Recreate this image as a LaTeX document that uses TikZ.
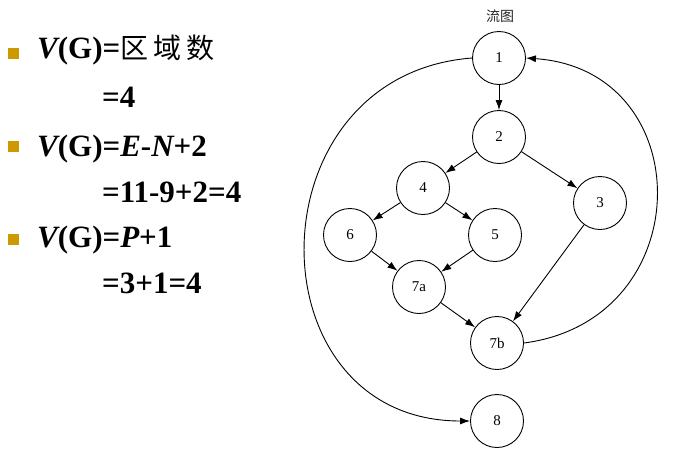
\documentclass[tikz,border=0pt]{standalone}
\usepackage{fontspec}
\setmainfont{Liberation Serif}
\newfontfamily\cjk{Noto Sans CJK SC}
\usetikzlibrary{arrows.meta}
\definecolor{bul}{HTML}{CC9900}
\begin{document}
\begin{tikzpicture}[x=1pt,y=-1pt,
  vtx/.style={circle,draw,line width=0.9pt,minimum size=53pt,inner sep=0pt,font=\fontsize{15}{15}\selectfont},
  edge/.style={-{Latex[length=10pt,width=7pt]},line width=0.9pt},
  big/.style={anchor=base west,inner sep=0pt,font=\fontsize{31}{31}\selectfont\bfseries},
  bullet/.style={fill=bul,minimum size=11pt,inner sep=0pt}]
\useasboundingbox (0,0) rectangle (673,456);
% left text
\node[bullet] (b1) at (13,53) {};
\node[bullet] (b2) at (13,146) {};
\node[bullet] (b3) at (13,239) {};
\node[big] (t1) at (37,58) {{\itshape V}(G)={\cjk\mdseries\fontsize{28}{28}\selectfont 区\hspace{5pt}域\hspace{5pt}数}};
\node[big] (t2) at (102,107) {=4};
\node[big] (t3) at (37,156) {{\itshape V}(G)={\itshape E}-{\itshape N}+2};
\node[big] (t4) at (102,202) {=11-9+2=4};
\node[big] (t5) at (37,247) {{\itshape V}(G)={\itshape P}+1};
\node[big] (t6) at (102,293) {=3+1=4};
% graph
\node[font=\fontsize{14}{14}\selectfont\cjk,text=black!85] (title) at (500,16) {流图};
\node[vtx] (n1) at (499,58) {1};
\node[vtx] (n2) at (499,137) {2};
\node[vtx] (n4) at (423,188) {4};
\node[vtx] (n3) at (600,203) {3};
\node[vtx] (n6) at (350,235) {6};
\node[vtx] (n5) at (495,235) {5};
\node[vtx] (n7a) at (419,287) {7a};
\node[vtx] (n7b) at (497,343) {7b};
\node[vtx] (n8) at (497,421) {8};
\draw[edge] (n1) -- (n2);
\draw[edge] (n2) -- (n4);
\draw[edge] (n2) -- (n3);
\draw[edge] (n4) -- (n6);
\draw[edge] (n4) -- (n5);
\draw[edge] (n6) -- (n7a);
\draw[edge] (n5) -- (n7a);
\draw[edge] (n7a) -- (n7b);
\draw[edge] (n3) -- (n7b);
\draw[edge] (n1.west) .. controls (250,75) and (250,421) .. (n8.west);
\draw[edge] (n7b.east) .. controls (700,320) and (700,70) .. (n1.east);
\end{tikzpicture}
\end{document}
